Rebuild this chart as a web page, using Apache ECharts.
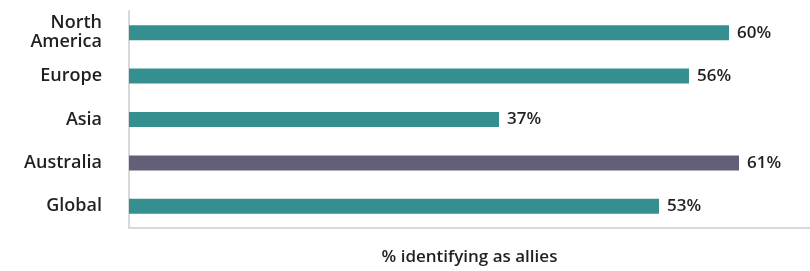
<!DOCTYPE html>
<html>
<head>
<meta charset="utf-8">
<script src="https://cdn.jsdelivr.net/npm/echarts@6/dist/echarts.min.js"></script>
<style>
  html, body { margin: 0; padding: 0; background: #fff; }
  #chart { width: 810px; height: 271px; }
</style>
</head>
<body>
<div id="chart"></div>
<script>
const REGIONS = ['North\nAmerica', 'Europe', 'Asia', 'Australia', 'Global'];
const ALLY_SHARE = [60, 56, 37, 61, 53];
const HIGHLIGHT = 'Australia';

const TEAL = '#368f8f';
const PURPLE = '#655e78';
const TEXT = '#231f20';
const FONT = '"Open Sans", Lato, sans-serif';

const chart = echarts.init(document.getElementById('chart'), null, { renderer: 'canvas' });

chart.setOption({
  backgroundColor: '#fff',
  animation: false,
  grid: { top: 11, bottom: 36, left: 129, right: 0 },
  xAxis: {
    type: 'value',
    min: 0,
    max: 68.1,
    name: '% identifying as allies',
    nameLocation: 'middle',
    nameGap: 21,
    nameTextStyle: { color: TEXT, fontSize: 17, fontWeight: 600, fontFamily: FONT },
    axisLine: { show: true, lineStyle: { color: '#d9d9d9', width: 2 } },
    axisTick: { show: false },
    axisLabel: { show: false },
    splitLine: { show: false },
  },
  yAxis: {
    type: 'category',
    data: REGIONS,
    inverse: true,
    axisLine: { show: true, lineStyle: { color: '#d9d9d9', width: 2 } },
    axisTick: { show: false },
    axisLabel: {
      color: TEXT,
      fontSize: 18,
      fontWeight: 600,
      fontFamily: FONT,
      lineHeight: 19,
      margin: 27,
      align: 'right',
    },
  },
  series: [
    {
      type: 'bar',
      barWidth: 15,
      data: ALLY_SHARE.map((v, i) => ({
        value: v,
        itemStyle: { color: REGIONS[i] === HIGHLIGHT ? PURPLE : TEAL },
      })),
      label: {
        show: true,
        position: 'right',
        distance: 8,
        formatter: '{c}%',
        color: TEXT,
        fontSize: 17,
        fontWeight: 600,
        fontFamily: FONT,
      },
    },
  ],
});
</script>
</body>
</html>
